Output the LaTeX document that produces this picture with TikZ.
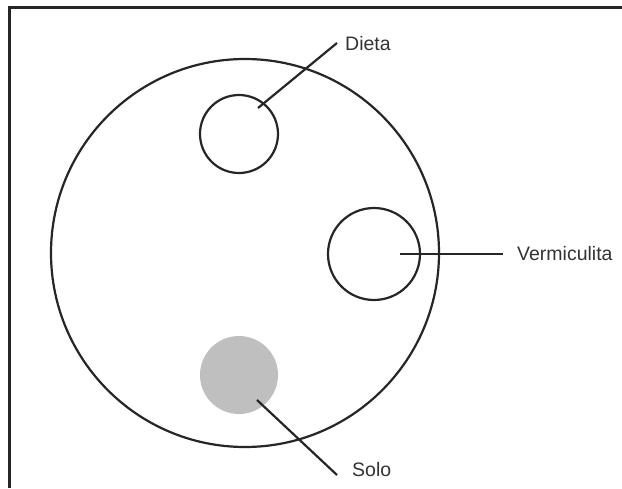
\documentclass[tikz,border=0pt]{standalone}
\usepackage{fontspec}
\setmainfont{Liberation Sans}
\usetikzlibrary{positioning}

\tikzset{
  ring/.style={draw=black!85,line width=2.2pt,circle,inner sep=0pt},
  tag/.style={anchor=west,inner sep=0pt,text=black!80,font=\fontsize{19.5}{23}\selectfont},
  lead/.style={draw=black!85,line width=2.2pt}
}

\begin{document}
\begin{tikzpicture}[x=1pt,y=-1pt]
  \useasboundingbox (0,0) rectangle (622,488);
  \fill[white] (0,0) rectangle (622,488);
  % frame (top and left edge only)
  \draw[black!85,line width=3pt] (9,488) -- (9,7) -- (622,7);

  % outer dish
  \node[ring,minimum size=388pt] (dish) at (245,253) {};

  % inner circles
  \node[ring,minimum size=78pt] (dieta) at (239,134) {};
  \node[ring,minimum size=92pt] (verm) at (374,254) {};
  \node[circle,fill=black!25,minimum size=78pt,inner sep=0pt] (solo) at (239,375) {};

  % labels
  \node[tag] (tdieta) at (345,44) {Dieta};
  \node[tag] (tverm) at (517,254) {Vermiculita};
  \node[tag] (tsolo) at (352,470) {Solo};

  % leaders
  \coordinate (pdieta) at (258,108);
  \coordinate (pverm) at (400,254);
  \coordinate (psolo) at (257,400);
  \draw[lead] (pdieta) -- ([xshift=-8pt,yshift=1pt]tdieta.west);
  \draw[lead] (pverm) -- ([xshift=-14pt]tverm.west);
  \draw[lead] (psolo) -- ([xshift=-15pt,yshift=-5pt]tsolo.west);
\end{tikzpicture}
\end{document}
